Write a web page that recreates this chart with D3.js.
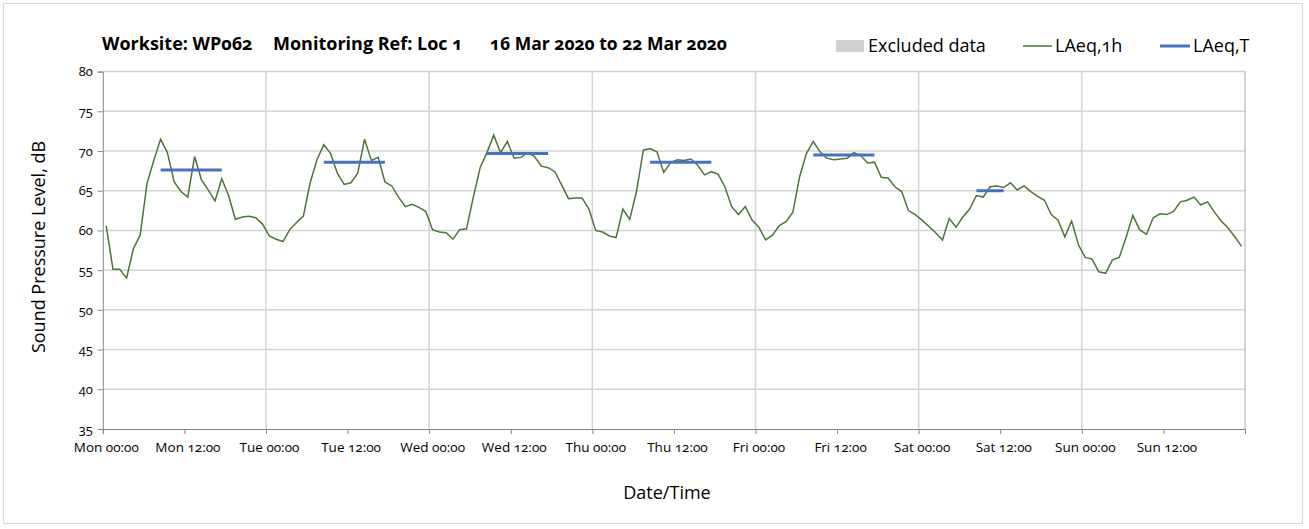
<!DOCTYPE html>
<html>
<head>
  <title>LAeq chart</title>
  <script src="https://d3js.org/d3.v7.min.js"></script>
  <style>
    body { margin: 0; background: #fff; }
    text { font-family: "Open Sans", "Noto Sans", sans-serif; font-feature-settings: "onum"; font-variant-numeric: oldstyle-nums; fill: #000; }
  </style>
</head>
<body>
  <svg width="1309" height="529" id="mainsvg"></svg>
  <script>
    // hourly LAeq,1h values per day (00:00 .. 23:00)
    const mon = [60.6, 55.1, 55.1, 54.0, 57.7, 59.4, 65.9, 68.8, 71.5, 69.8, 66.1, 64.9, 64.2, 69.3, 66.4, 65.1, 63.7, 66.5, 64.4, 61.4, 61.7, 61.8, 61.6, 60.8];
    const tue = [59.3, 58.9, 58.6, 60.1, 61.0, 61.8, 66.0, 68.9, 70.8, 69.7, 67.2, 65.8, 66.0, 67.2, 71.5, 68.8, 69.2, 66.1, 65.6, 64.2, 63.0, 63.3, 62.9, 62.4];
    const wed = [60.1, 59.8, 59.7, 58.9, 60.1, 60.2, 64.2, 67.9, 69.8, 72.0, 69.8, 71.2, 69.1, 69.2, 69.8, 69.3, 68.1, 67.9, 67.4, 65.7, 64.0, 64.1, 64.1, 62.7];
    const thu = [60.0, 59.8, 59.3, 59.1, 62.7, 61.4, 64.9, 70.1, 70.3, 69.9, 67.3, 68.5, 68.9, 68.8, 69.0, 68.2, 67.0, 67.4, 67.1, 65.5, 63.0, 62.0, 63.0, 61.3];
    const fri = [60.4, 58.8, 59.4, 60.6, 61.1, 62.3, 66.8, 69.7, 71.2, 69.9, 69.1, 68.9, 69.0, 69.1, 69.8, 69.4, 68.5, 68.6, 66.7, 66.6, 65.5, 64.9, 62.5, 62.0];
    const sat = [61.3, 60.5, 59.7, 58.8, 61.5, 60.4, 61.7, 62.7, 64.4, 64.2, 65.5, 65.6, 65.4, 66.0, 65.1, 65.6, 64.9, 64.3, 63.8, 62.0, 61.3, 59.2, 61.2, 58.2];
    const sun = [56.6, 56.4, 54.8, 54.6, 56.3, 56.6, 59.1, 61.9, 60.1, 59.5, 61.6, 62.1, 62.0, 62.4, 63.6, 63.8, 64.2, 63.2, 63.6, 62.3, 61.2, 60.3, 59.2, 58.0];

    // LAeq,T periods (day index, start hour, end hour, level)
    const tDay = [0, 1, 2, 3, 4, 5];
    const tStart = [8, 8, 8, 8, 8, 8];
    const tEnd = [18, 18, 18, 18, 18, 13];
    const tLevel = [67.6, 68.6, 69.7, 68.6, 69.5, 65.0];

    const xTickLabels = ["Mon 00:00", "Mon 12:00", "Tue 00:00", "Tue 12:00", "Wed 00:00", "Wed 12:00", "Thu 00:00",
      "Thu 12:00", "Fri 00:00", "Fri 12:00", "Sat 00:00", "Sat 12:00", "Sun 00:00", "Sun 12:00"];
    const yTicks = [35, 40, 45, 50, 55, 60, 65, 70, 75, 80];

    const svg = d3.select('#mainsvg');
    const plotL = 102.8, plotR = 1245, plotT = 71.6, plotB = 429;

    const hourly = [mon, tue, wed, thu, fri, sat, sun].flat();
    const data = hourly.map((v, i) => ({ h: i + 0.5, v: v }));

    const x = d3.scaleLinear().domain([0, 168]).range([plotL, plotR]);
    const y = d3.scaleLinear().domain([35, 80]).range([plotB, plotT]);

    // outer chart border
    svg.append('rect')
      .attr('x', 3.5).attr('y', 3.5).attr('width', 1299).attr('height', 520)
      .attr('fill', 'none').attr('stroke', '#d9d9d9');

    // gridlines
    svg.append('g').selectAll('line').data(yTicks.slice(1)).enter().append('line')
      .attr('x1', plotL).attr('x2', plotR)
      .attr('y1', d => y(d)).attr('y2', d => y(d))
      .attr('stroke', '#d4d4d4').attr('stroke-width', 1.5);
    svg.append('g').selectAll('line').data(d3.range(24, 168, 24)).enter().append('line')
      .attr('x1', d => x(d)).attr('x2', d => x(d))
      .attr('y1', plotT).attr('y2', plotB)
      .attr('stroke', '#d4d4d4').attr('stroke-width', 1.5);
    svg.append('line')
      .attr('x1', plotR).attr('x2', plotR).attr('y1', plotT).attr('y2', plotB)
      .attr('stroke', '#a6a6a6');

    // axes
    const xAxis = d3.axisBottom(x).tickValues(d3.range(0, 169, 12))
      .tickSize(5).tickFormat((d, i) => xTickLabels[i] || '');
    const gx = svg.append('g').attr('transform', `translate(0,${plotB})`).call(xAxis);
    gx.select('.domain').attr('stroke', '#868686');
    gx.selectAll('.tick line').attr('stroke', '#868686');
    gx.selectAll('.tick text').attr('dx', 3).attr('y', 13).attr('font-size', 13.5)
      .style('font-family', '"Open Sans", sans-serif');

    const yAxis = d3.axisLeft(y).tickValues(yTicks).tickSize(5).tickFormat(d3.format('d'));
    const gy = svg.append('g').attr('transform', `translate(${plotL},0)`).call(yAxis);
    gy.select('.domain').attr('stroke', '#868686');
    gy.selectAll('.tick line').attr('stroke', '#868686');
    gy.selectAll('.tick text').attr('x', -10).attr('font-size', 13)
      .style('font-family', '"Open Sans", sans-serif');

    // LAeq,1h line
    svg.append('path').datum(data)
      .attr('d', d3.line().x(d => x(d.h)).y(d => y(d.v)))
      .attr('fill', 'none').attr('stroke', '#4d7536').attr('stroke-width', 1.5);

    // LAeq,T segments
    svg.append('g').selectAll('line').data(tDay).enter().append('line')
      .attr('x1', (d, i) => x(d * 24 + tStart[i] + 0.5))
      .attr('x2', (d, i) => x(d * 24 + tEnd[i] - 0.5))
      .attr('y1', (d, i) => y(tLevel[i])).attr('y2', (d, i) => y(tLevel[i]))
      .attr('stroke', '#4472c4').attr('stroke-width', 3);

    // title
    const title = svg.append('g').attr('font-weight', 'bold').attr('font-size', 18);
    title.append('text').attr('x', 102).attr('y', 50).text('Worksite: WP062');
    title.append('text').attr('x', 273).attr('y', 50).text('Monitoring Ref: Loc 1');
    title.append('text').attr('x', 490).attr('y', 50).attr('font-size', 17.5).text('16 Mar 2020 to 22 Mar 2020');

    // legend
    const lg = svg.append('g').attr('font-size', 18);
    lg.append('rect').attr('x', 836).attr('y', 40).attr('width', 28).attr('height', 12).attr('fill', '#d0d0d0');
    lg.append('text').attr('x', 868).attr('y', 52).text('Excluded data');
    lg.append('line').attr('x1', 1023).attr('x2', 1052).attr('y1', 46).attr('y2', 46)
      .attr('stroke', '#4d7536').attr('stroke-width', 1.5);
    lg.append('text').attr('x', 1055).attr('y', 52).text('LAeq,1h');
    lg.append('line').attr('x1', 1160).attr('x2', 1190).attr('y1', 46).attr('y2', 46)
      .attr('stroke', '#4472c4').attr('stroke-width', 3);
    lg.append('text').attr('x', 1193).attr('y', 52).text('LAeq,T');

    // axis titles
    svg.append('text').attr('transform', 'translate(45,247) rotate(-90)')
      .attr('text-anchor', 'middle').attr('font-size', 18).text('Sound Pressure Level, dB');
    svg.append('text').attr('x', 667).attr('y', 499)
      .attr('text-anchor', 'middle').attr('font-size', 18).text('Date/Time');
  </script>
</body>
</html>
